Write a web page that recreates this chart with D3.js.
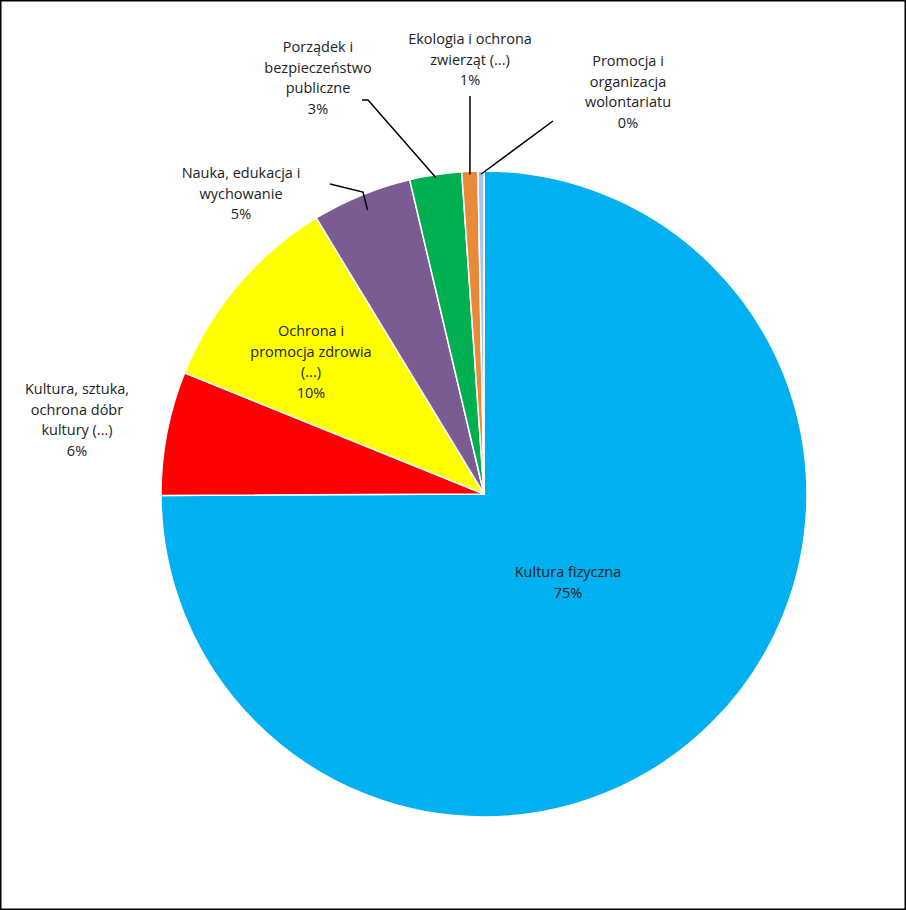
<!DOCTYPE html>
<html><head><meta charset="utf-8">
<script src="https://d3js.org/d3.v7.min.js"></script>
<style>body{margin:0;background:#fff}</style></head>
<body><svg id="c" width="906" height="910"></svg>
<script>
const categories = ["Kultura fizyczna","Kultura, sztuka, ochrona dóbr kultury (...)","Ochrona i promocja zdrowia (...)","Nauka, edukacja i wychowanie","Porządek i bezpieczeństwo publiczne","Ekologia i ochrona zwierząt (...)","Promocja i organizacja wolontariatu"];
const values = [75.0, 6.2, 10.2, 5.0, 2.6, 0.8, 0.3];
const colors = ["#00B0F0","#FF0000","#FFFF00","#7A5C93","#00B050","#E98A38","#A6C5E8"];
const labelLines = [["Kultura fizyczna"],["Kultura, sztuka,","ochrona dóbr","kultury (...)"],["Ochrona i","promocja zdrowia","(...)"],["Nauka, edukacja i","wychowanie"],["Porządek i","bezpieczeństwo","publiczne"],["Ekologia i ochrona","zwierząt (...)"],["Promocja i","organizacja","wolontariatu"]];
// layout (style): label centre of first line, leader start
const labelPos = [[568,577],[77,394],[311,336],[241,178],[318,52],[470,44],[628,66]];
const leaderStart = [null,null,null,[330,184],[368,100],[470,96],[553,121]];
const leaderEnd = [null,null,null,[0.95],[0.99],[0.99],[0.99]];

const svg = d3.select("#c");
svg.append("rect").attr("x",0.5).attr("y",0.5).attr("width",905).attr("height",909).attr("fill","#fff").attr("stroke","#000").attr("stroke-width",2);
const cx=484, cy=494, R=323;
const g = svg.append("g").attr("transform",`translate(${cx},${cy})`);
const total = d3.sum(values);
const pie = d3.pie().sort(null).value(d=>d)(values);
const arc = d3.arc().innerRadius(0).outerRadius(R);
g.selectAll("path").data(pie).join("path").attr("d",arc).attr("fill",(d,i)=>colors[i]).attr("stroke","#fff").attr("stroke-width",1.5);

pie.forEach((d,i)=>{
  if(leaderStart[i]){
    const a=(d.startAngle+d.endAngle)/2, r=R*leaderEnd[i][0];
    const ex=cx+Math.sin(a)*r, ey=cy-Math.cos(a)*r;
    const [sx,sy]=leaderStart[i];
    const pts = i===3 ? [[sx+30,sy],[sx,sy]] : i===4 ? [[sx-3,sy],[sx,sy]] : [[sx,sy]];
    const pathD = "M"+[[ex,ey],[sx,sy],...(i===3?[[sx+32,sy+8]]:[])].map(p=>p.join(",")).join("L");
    svg.append("path").attr("d", i===3 ? `M${ex},${ey}L${sx+33},${sy+8}L${sx},${sy}` : `M${ex},${ey}L${sx},${sy}${i===4?`L${sx-6},${sy}`:""}`)
      .attr("fill","none").attr("stroke","#000").attr("stroke-width",1.5);
  }
  const lines=[...labelLines[i], Math.round(values[i]/total*100)+"%"];
  const t=svg.append("text").attr("text-anchor","middle").attr("font-family","Open Sans, Liberation Sans, sans-serif").attr("font-size",14.5).attr("fill","#222");
  lines.forEach((l,k)=>t.append("tspan").attr("x",labelPos[i][0]).attr("y",labelPos[i][1]+k*20.5).text(l));
});
</script></body></html>
